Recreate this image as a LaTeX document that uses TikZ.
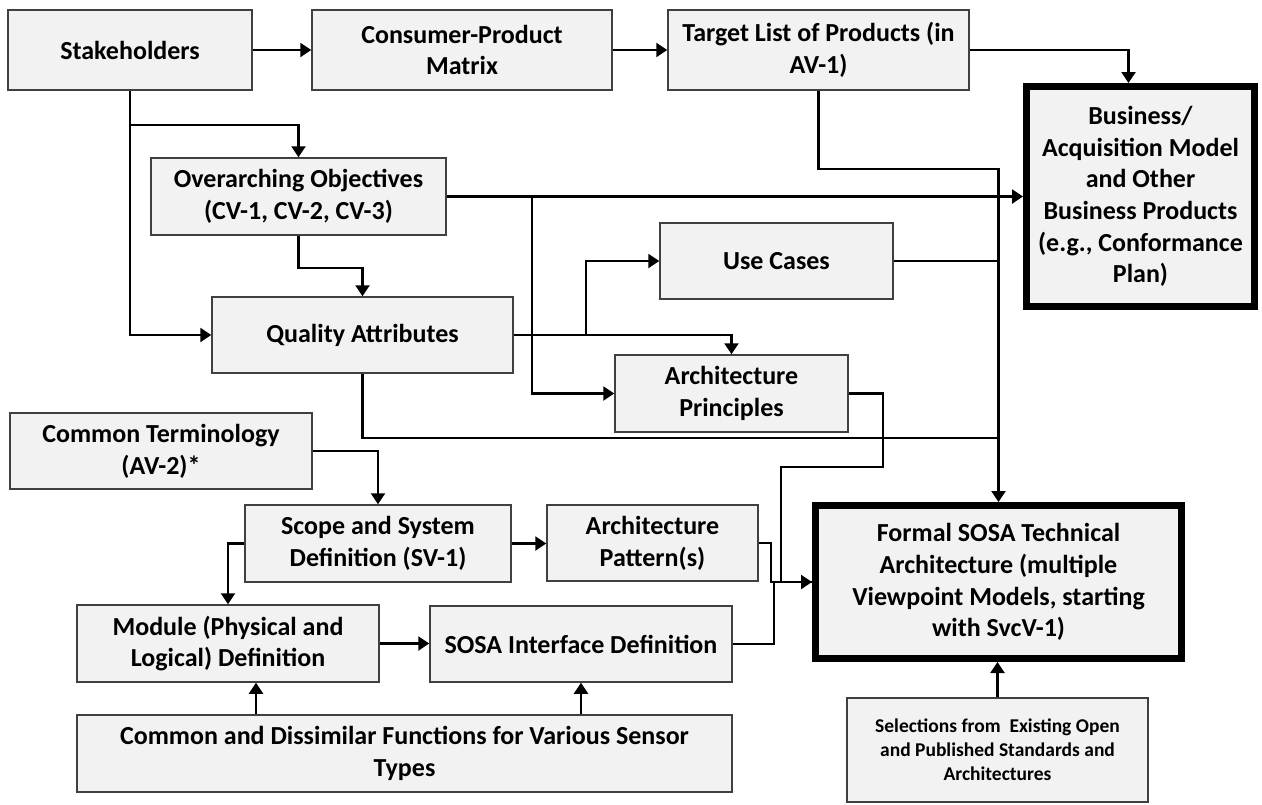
\documentclass[tikz,border=0pt]{standalone}
\usepackage{fontspec}
\setmainfont{Carlito}
\usepackage{tikz}
\usetikzlibrary{arrows.meta,calc}

\begin{document}
\begin{tikzpicture}[x=1pt, y=-1pt,
  pbox/.style={rectangle, draw=black!75, line width=1.5pt, fill=black!5, align=center,
    font=\fontsize{26}{31.7}\selectfont\bfseries, inner sep=2pt},
  kbox/.style={pbox, draw=black, line width=7pt},
  sbox/.style={pbox, font=\fontsize{19.5}{24}\selectfont\bfseries},
  arr/.style={-{Triangle[length=11pt, width=14pt]}, line width=2.4pt},
  lnk/.style={line width=2.4pt}
]
\useasboundingbox (0,0) rectangle (1262,804);

% top row
\node[pbox, minimum width=244pt, minimum height=80pt] (stake) at (130,50) {Stakeholders};
\node[pbox, minimum width=300pt, minimum height=80pt] (cpm) at (462,50) {Consumer-Product\\Matrix};
\node[pbox, minimum width=301pt, minimum height=80pt] (target) at (818.5,50) {Target List of Products (in\\AV-1)};
\node[kbox, minimum width=228pt, minimum height=220pt] (business) at (1140.5,196.5)
  {Business/\\Acquisition Model\\and Other\\Business Products\\(e.g., Conformance\\Plan)};

% objectives and attributes
\node[pbox, minimum width=295pt, minimum height=77pt] (overarch) at (298.5,196.5) {Overarching Objectives\\(CV-1, CV-2, CV-3)};
\node[pbox, minimum width=233pt, minimum height=76pt] (usecases) at (776.5,261) {Use Cases};
\node[pbox, minimum width=301pt, minimum height=76pt] (quality) at (362.5,335) {Quality Attributes};
\node[pbox, minimum width=233pt, minimum height=77pt] (archprin) at (731.5,393.5) {Architecture\\Principles};

% definition chain
\node[pbox, minimum width=302pt, minimum height=76pt] (terms) at (161,451) {Common Terminology\\(AV-2)*};
\node[pbox, minimum width=266pt, minimum height=77pt] (scope) at (378,543.5) {Scope and System\\Definition (SV-1)};
\node[pbox, minimum width=211pt, minimum height=76pt] (pattern) at (652.5,543) {Architecture\\Pattern(s)};
\node[pbox, minimum width=302pt, minimum height=77pt] (module) at (228,643.5) {Module (Physical and\\Logical) Definition};
\node[pbox, minimum width=302pt, minimum height=76pt] (iface) at (581,644) {SOSA Interface Definition};
\node[pbox, minimum width=655pt, minimum height=77pt] (funcs) at (404.5,753.5)
  {Common and Dissimilar Functions for Various Sensor\\Types};

% technical architecture
\node[kbox, minimum width=366pt, minimum height=153pt] (formal) at (998.5,582)
  {Formal SOSA Technical\\Architecture (multiple\\Viewpoint Models, starting\\with SvcV-1)};
\node[sbox, minimum width=301pt, minimum height=104pt] (select) at (997.5,750)
  {Selections from\ \ Existing Open\\and Published Standards and\\Architectures};

\coordinate (oj) at (532,196.5);
\coordinate (qj) at (586,335);
\coordinate (qb) at (998.5,438);

% top row links
\draw[arr] (stake) -- (cpm);
\draw[arr] (cpm) -- (target);
\draw[arr] (target.east) -| ([xshift=-12pt]business.north);

% stakeholders and objectives
\draw[arr] (stake.south) -- ++(0,34) -| (overarch.north);
\draw[arr] (stake.south) |- (quality.west);
\draw[arr] (overarch.south) -- ++(0,32) -| (quality.north);
\draw[arr] (overarch.east) -- (business.west);
\draw[arr] (oj) |- (archprin.west);
\draw[arr] (quality.east) -| (archprin.north);
\draw[arr] (qj) |- (usecases.west);

% into formal architecture
\draw[arr] (target.south) -- ++(0,78) -| (formal.north);
\draw[lnk] (usecases.east) -- (usecases.east -| formal.north);
\draw[lnk] (quality.south) |- (qb);
\draw[arr] (archprin.east) -- ++(34,0) -- ++(0,73.5) -- ++(-102,0) |- (formal.west);
\draw[lnk] (pattern.east) -- ++(12,0) |- (formal.west);
\draw[lnk] (iface.east) -- ++(41,0) |- (formal.west);

% lower left
\draw[arr] (terms.east) -| (scope.north);
\draw[arr] (scope.west) -| (module.north);
\draw[arr] (scope.east) -- (scope.east -| pattern.west);
\draw[arr] (module.east) -- (module.east -| iface.west);
\draw[arr] ($(module.south |- funcs.north)+(28,0)$) -- ($(module.south)+(28,0)$);
\draw[arr] (funcs.north -| iface.south) -- (iface.south);
\draw[arr] (select.north) -- (select.north |- formal.south);

\end{tikzpicture}
\end{document}
